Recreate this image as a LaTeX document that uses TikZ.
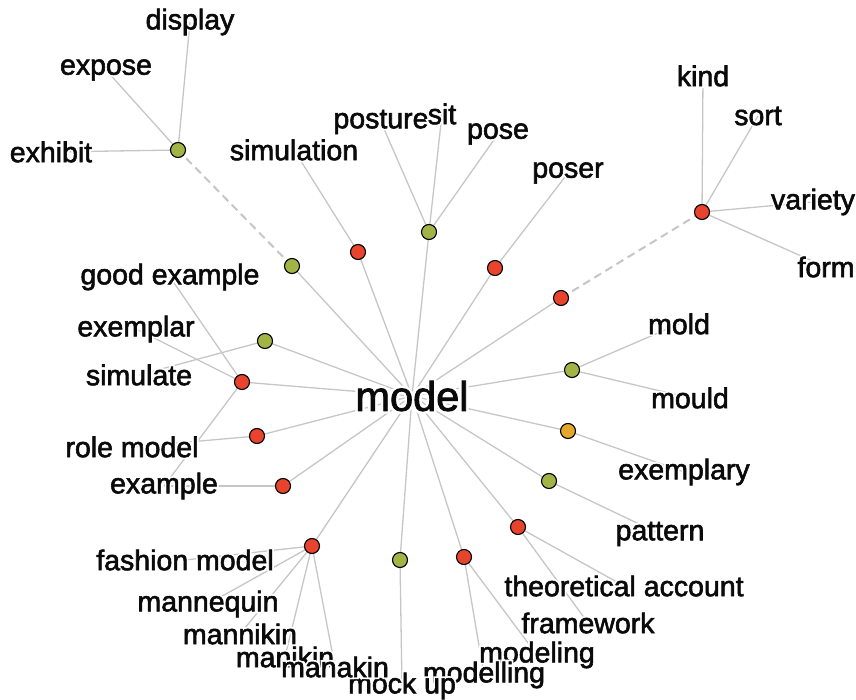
\documentclass[tikz,border=0pt]{standalone}
\usepackage{fontspec}
\setmainfont[FakeBold=2]{Liberation Sans}
\newfontfamily\halofont[FakeBold=14]{Liberation Sans}
\usetikzlibrary{backgrounds}
\definecolor{dotred}{HTML}{E8432D}
\definecolor{dotgreen}{HTML}{A3B447}
\definecolor{dotorange}{HTML}{E2A72C}
\definecolor{linkgray}{HTML}{C6C6C6}
\definecolor{inkblack}{HTML}{0A0A0A}
\newcommand{\halotext}[1]{\leavevmode\rlap{\textcolor{white}{\halofont #1}}#1}
\begin{document}
\begin{tikzpicture}[x=1pt,y=-1pt,
  hubdot/.style={circle, draw=black, line width=1.1pt, minimum size=15pt, inner sep=0pt},
  wordlabel/.style={inner sep=0pt, text=inkblack, font=\fontsize{28.5}{30}\selectfont},
  linkline/.style={draw=linkgray, line width=1.3pt},
  dashlink/.style={draw=linkgray, line width=2pt, dash pattern=on 8pt off 5pt}]
\path[use as bounding box] (0,0) rectangle (856,700);

% dots
\node[hubdot, fill=dotgreen]  (h1)  at (178,150) {};
\node[hubdot, fill=dotgreen]  (h2)  at (292,266) {};
\node[hubdot, fill=dotred]    (h3)  at (358,252) {};
\node[hubdot, fill=dotgreen]  (h4)  at (429,232) {};
\node[hubdot, fill=dotred]    (h5)  at (495,268) {};
\node[hubdot, fill=dotred]    (h6)  at (561,298) {};
\node[hubdot, fill=dotred]    (h7)  at (702,212) {};
\node[hubdot, fill=dotgreen]  (h8)  at (572,370) {};
\node[hubdot, fill=dotorange] (h9)  at (568,431) {};
\node[hubdot, fill=dotgreen]  (h10) at (549,481) {};
\node[hubdot, fill=dotred]    (h11) at (518,527) {};
\node[hubdot, fill=dotred]    (h12) at (464,557) {};
\node[hubdot, fill=dotgreen]  (h13) at (400,560) {};
\node[hubdot, fill=dotred]    (h14) at (312,546) {};
\node[hubdot, fill=dotred]    (h15) at (283,486) {};
\node[hubdot, fill=dotred]    (h16) at (257,436) {};
\node[hubdot, fill=dotred]    (h17) at (242,382) {};
\node[hubdot, fill=dotgreen]  (h18) at (265,341) {};

% labels
\node[wordlabel, font=\fontsize{41.5}{44}\selectfont] (model) at (412,396) {\halotext{model}};
\node[wordlabel] (display) at (190,22) {\halotext{display}};
\node[wordlabel] (expose) at (106,70) {\halotext{expose}};
\node[wordlabel] (exhibit) at (51,152) {\halotext{exhibit}};
\node[wordlabel] (simulation) at (294,150) {\halotext{simulation}};
\node[wordlabel] (posture) at (381,122) {\halotext{posture}};
\node[wordlabel] (sit) at (442,114) {\halotext{sit}};
\node[wordlabel] (pose) at (498,134) {\halotext{pose}};
\node[wordlabel] (poser) at (568,173) {\halotext{poser}};
\node[wordlabel] (kind) at (703,76) {\halotext{kind}};
\node[wordlabel] (sort) at (758,116) {\halotext{sort}};
\node[wordlabel] (variety) at (813,202) {\halotext{variety}};
\node[wordlabel] (form) at (826,267) {\halotext{form}};
\node[wordlabel] (mold) at (679,324) {\halotext{mold}};
\node[wordlabel] (mould) at (690,398) {\halotext{mould}};
\node[wordlabel] (exemplary) at (684,472) {\halotext{exemplary}};
\node[wordlabel] (pattern) at (660,534) {\halotext{pattern}};
\node[wordlabel] (theoretical) at (624,586) {\halotext{theoretical account}};
\node[wordlabel] (framework) at (588,623) {\halotext{framework}};
\node[wordlabel] (modeling) at (537,655) {\halotext{modeling}};
\node[wordlabel] (modelling) at (484,675) {\halotext{modelling}};
\node[wordlabel] (mockup) at (402,686) {\halotext{mock up}};
\node[wordlabel] (fashion) at (185,560) {\halotext{fashion model}};
\node[wordlabel] (mannequin) at (208,604) {\halotext{mannequin}};
\node[wordlabel] (mannikin) at (240,634) {\halotext{mannikin}};
\node[wordlabel] (manikin) at (285,657) {\halotext{manikin}};
\node[wordlabel] (manakin) at (335,667) {\halotext{manakin}};
\node[wordlabel] (example) at (164,486) {\halotext{example}};
\node[wordlabel] (rolemodel) at (132,447) {\halotext{role model}};
\node[wordlabel] (simulate) at (139,375) {\halotext{simulate}};
\node[wordlabel] (exemplar) at (136,329) {\halotext{exemplar}};
\node[wordlabel] (goodexample) at (170,277) {\halotext{good example}};

\begin{scope}[on background layer]
  \foreach \h in {h2,h3,h4,h5,h6,h8,h9,h10,h11,h12,h13,h14,h15,h16,h17,h18}
    \draw[linkline] (model.center) -- (\h.center);
  \draw[dashlink] (h2.center) -- (h1.center);
  \draw[dashlink] (h6.center) -- (h7.center);
  \foreach \w in {display,expose,exhibit} \draw[linkline] (h1.center) -- (\w.center);
  \draw[linkline] (h3.center) -- (simulation.center);
  \foreach \w in {posture,sit,pose} \draw[linkline] (h4.center) -- (\w.center);
  \draw[linkline] (h5.center) -- (poser.center);
  \foreach \w in {kind,sort,variety,form} \draw[linkline] (h7.center) -- (\w.center);
  \foreach \w in {mold,mould} \draw[linkline] (h8.center) -- (\w.center);
  \draw[linkline] (h9.center) -- (exemplary.center);
  \draw[linkline] (h10.center) -- (pattern.center);
  \foreach \w in {theoretical,framework} \draw[linkline] (h11.center) -- (\w.center);
  \foreach \w in {modeling,modelling} \draw[linkline] (h12.center) -- (\w.center);
  \draw[linkline] (h13.center) -- (mockup.center);
  \foreach \w in {fashion,mannequin,mannikin,manikin,manakin} \draw[linkline] (h14.center) -- (\w.center);
  \draw[linkline] (h15.center) -- (example.center);
  \draw[linkline] (h16.center) -- (rolemodel.center);
  \foreach \w in {goodexample,exemplar,example} \draw[linkline] (h17.center) -- (\w.center);
  \draw[linkline] (h18.center) -- (simulate.center);
\end{scope}
\end{tikzpicture}
\end{document}
